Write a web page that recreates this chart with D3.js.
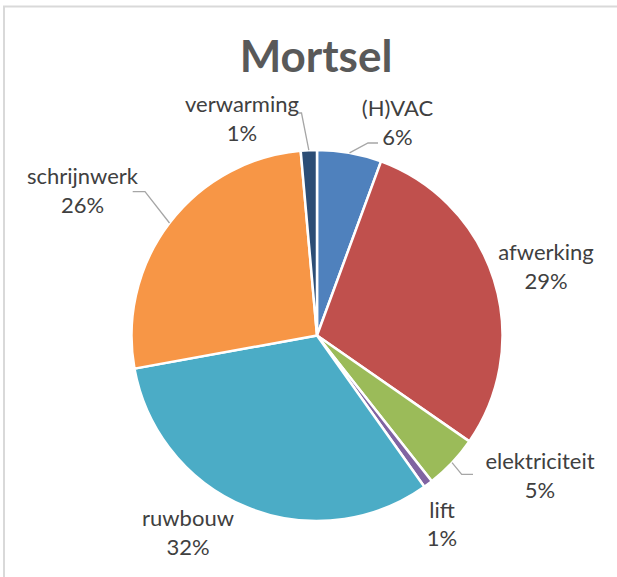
<!DOCTYPE html>
<html lang="nl">
<head>
<meta charset="UTF-8">
<script src="https://cdn.jsdelivr.net/npm/d3@7"></script>
<style>
  body { margin: 0; background: #fff; }
  text { font-family: Lato, "Open Sans", sans-serif; }
</style>
</head>
<body>
<script>
// gegevens (aandeel per post, %)
const categories = ["(H)VAC", "afwerking", "elektriciteit", "lift", "ruwbouw", "schrijnwerk", "verwarming"]
const values = [5.6, 29.0, 4.7, 0.8, 31.9, 26.4, 1.4]
const title = "Mortsel"

const colors = ["#4F81BD", "#C0504D", "#9BBB59", "#8064A2", "#4BACC6", "#F79646", "#2C4D75"]

const width = 617, height = 577
const cx = 317, cy = 335.5, radius = 185.5
const lineGap = 28.5

// plaats van de labels t.o.v. het middelpunt (eerste regel, baseline)
const labelOffset = [
    [80.5, -219.5],
    [229, -75.5],
    [223, 133.5],
    [125, 182],
    [-129, 190.5],
    [-234.5, -151.5],
    [-75, -223.5]
]
// verbindingslijnen: knik en eindpunt t.o.v. het middelpunt
const leaders = {
    0: [[51, -192.5], [61, -192.5]],
    2: [[144.7, 138.8], [156, 138.8]],
    5: [[-172, -143.8], [-184.3, -143.8]],
    6: [[-15.5, -222.5], [-19, -222.5]]
}

const svg = d3.select("body").append("svg").attr("width", width).attr("height", height)

// kader
svg.append("rect")
    .attr("x", 4).attr("y", 6.5)
    .attr("width", width + 10).attr("height", height + 10)
    .attr("fill", "none").attr("stroke", "#d9d9d9").attr("stroke-width", 2)

svg.append("text")
    .attr("x", 316).attr("y", 72)
    .attr("text-anchor", "middle")
    .attr("font-size", 44).attr("font-weight", "bold")
    .attr("fill", "#595959")
    .text(title)

const total = d3.sum(values)
const pct = d3.format(".0%")
const pie = d3.pie().sort(null).value(d => d)
const arcs = pie(values)
const arc = d3.arc().innerRadius(0).outerRadius(radius)
const edge = d3.arc().innerRadius(radius).outerRadius(radius)

const g = svg.append("g").attr("transform", `translate(${cx},${cy})`)

g.selectAll("path.slice")
    .data(arcs)
    .enter()
    .append("path")
    .attr("class", "slice")
    .attr("d", arc)
    .attr("fill", (d, i) => colors[i])
    .attr("stroke", "#fff")
    .attr("stroke-width", 2.5)
    .attr("stroke-linejoin", "round")

// verbindingslijnen
g.selectAll("polyline")
    .data(arcs.filter((d, i) => leaders[i]))
    .enter()
    .append("polyline")
    .attr("points", d => [edge.centroid(d)].concat(leaders[d.index]).join(" "))
    .attr("fill", "none")
    .attr("stroke", "#a6a6a6")
    .attr("stroke-width", 1.3)

const labels = g.selectAll("text.lbl")
    .data(arcs)
    .enter()
    .append("text")
    .attr("class", "lbl")
    .attr("text-anchor", "middle")
    .attr("font-size", 22)
    .attr("fill", "#404040")
labels.append("tspan")
    .attr("x", d => labelOffset[d.index][0])
    .attr("y", d => labelOffset[d.index][1])
    .text(d => categories[d.index])
labels.append("tspan")
    .attr("x", d => labelOffset[d.index][0])
    .attr("y", d => labelOffset[d.index][1] + lineGap)
    .text(d => pct(d.value / total))
</script>
</body>
</html>
